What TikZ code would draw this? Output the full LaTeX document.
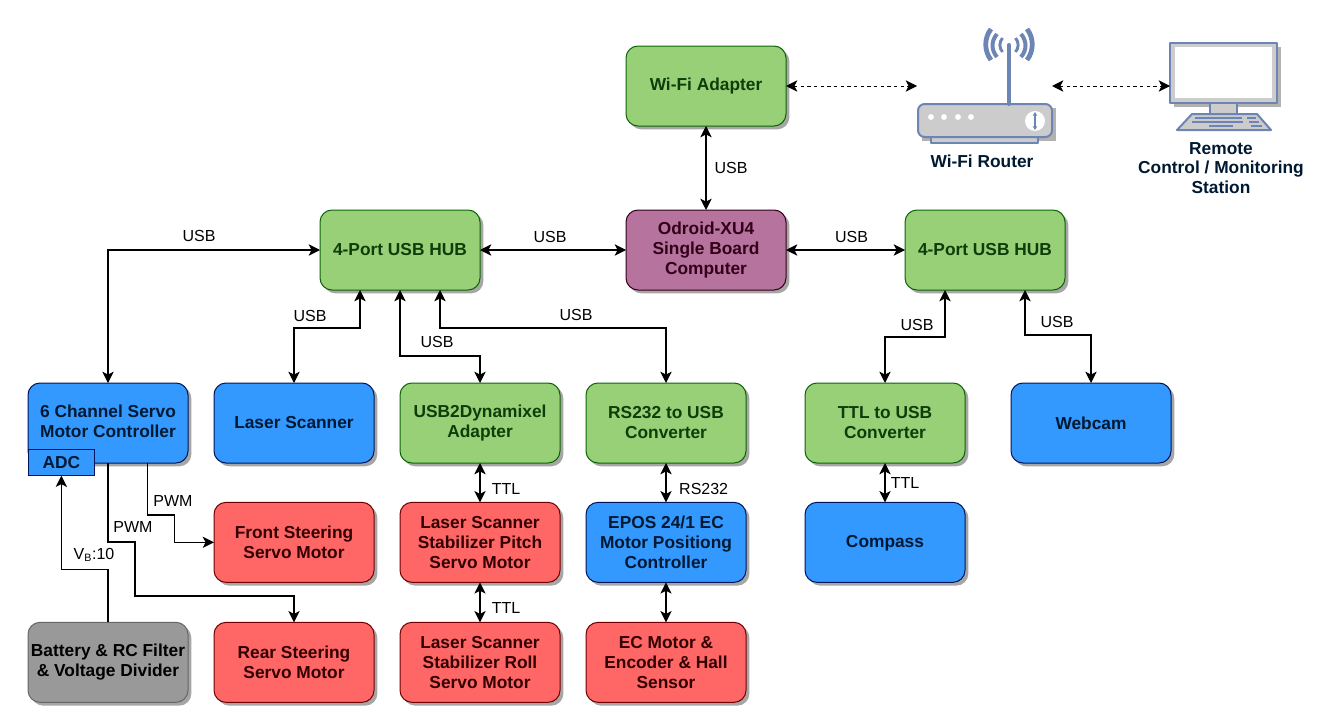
\documentclass[tikz,border=0pt]{standalone}
\usepackage{fontspec}
\setmainfont{Liberation Sans}
\usepackage{tikz}
\usetikzlibrary{arrows.meta, positioning, shadows}

\definecolor{greenfill}{HTML}{97D077}
\definecolor{greentext}{HTML}{0F3D0A}
\definecolor{bluefill}{HTML}{3399FF}
\definecolor{bluetext}{HTML}{001933}
\definecolor{redfill}{HTML}{FF6666}
\definecolor{redtext}{HTML}{330000}
\definecolor{grayfill}{HTML}{999999}
\definecolor{purplefill}{HTML}{B5739D}
\definecolor{purpletext}{HTML}{33001A}
\definecolor{iconline}{HTML}{6C85B5}
\definecolor{iconfill}{HTML}{CCCCCC}

\begin{document}
\begin{tikzpicture}[
    x=0.75pt, y=-0.75pt,
    node distance=29.5pt,
    block/.style={rectangle, minimum width=120pt, minimum height=60pt, align=center, rounded corners=9pt, line width=0.75pt, outer sep=0pt, inner sep=0pt, font=\fontsize{13pt}{15pt}\selectfont\bfseries, drop shadow={shadow xshift=2.5pt, shadow yshift=-2.5pt, fill=black!35, opacity=1}},
    greenblock/.style={block, draw=greentext!80!green, fill=greenfill, text=greentext},
    blueblock/.style={block, draw=bluetext!80!blue, fill=bluefill, text=bluetext},
    redblock/.style={block, draw=redtext!70!red, fill=redfill, text=redtext},
    grayblock/.style={block, draw=black!60, fill=grayfill, text=black},
    purpleblock/.style={block, draw=purpletext, fill=purplefill, text=purpletext},
    tag/.style={font=\fontsize{12pt}{14pt}\selectfont, inner sep=0pt},
    caption/.style={align=center, inner sep=0pt, text=bluetext, font=\fontsize{13pt}{14.6pt}\selectfont\bfseries},
    arrow/.style={line width=0.8pt, -{Stealth[length=8.5pt, width=8.5pt, inset=2.2pt]}},
    both/.style={line width=0.8pt, {Stealth[length=8.5pt, width=8.5pt, inset=2.2pt]}-{Stealth[length=8.5pt, width=8.5pt, inset=2.2pt]}},
    wireless/.style={both, line width=0.7pt, dash pattern=on 2.5pt off 2.5pt},
    icon/.style={draw=iconline, line width=1.5pt, line join=round}
]
\useasboundingbox (0,0) rectangle (1329,728);

% top row
\node (odroid) [purpleblock] at (706,250) {Odroid-XU4\\Single Board\\Computer};
\node (wifi) [greenblock, above=63pt of odroid] {Wi-Fi Adapter};
\node (hubleft) [greenblock, left=109.5pt of odroid] {4-Port USB HUB};
\node (hubright) [greenblock, right=89.25pt of odroid] {4-Port USB HUB};

% devices under the hubs
\node (servo) [blueblock] at (108,423) {\raisebox{6.5pt}{\begin{tabular}{@{}c@{}}6 Channel Servo\\Motor Controller\end{tabular}}};
\node (laser) [blueblock, right=19.5pt of servo] {Laser Scanner};
\node (dynamixel) [greenblock, right=19.5pt of laser] {USB2Dynamixel\\Adapter};
\node (rsconv) [greenblock, right=19.5pt of dynamixel] {RS232 to USB\\Converter};
\node (ttlconv) [greenblock] at (885,423) {TTL to USB\\Converter};
\node (webcam) [blueblock, right=34.5pt of ttlconv] {Webcam};
\node (adc) [rectangle, draw=bluetext!80!blue, fill=bluefill, text=bluetext, line width=0.75pt, outer sep=0pt, inner sep=0pt, minimum width=50pt, minimum height=20pt, font=\fontsize{13pt}{15pt}\selectfont\bfseries, anchor=north west] at ([yshift=10.5pt]servo.south west) {ADC};

% second row
\node (front) [redblock, below=29.5pt of laser] {Front Steering\\Servo Motor};
\node (pitch) [redblock, below=29.5pt of dynamixel] {Laser Scanner\\Stabilizer Pitch\\Servo Motor};
\node (epos) [blueblock, below=29.5pt of rsconv] {EPOS 24/1 EC\\Motor Positiong\\Controller};
\node (compass) [blueblock, below=29.5pt of ttlconv] {\raisebox{-3.75pt}[0pt][0pt]{Compass}};

% third row
\node (rear) [redblock, below=30pt of front] {Rear Steering\\Servo Motor};
\node (roll) [redblock, below=30pt of pitch] {Laser Scanner\\Stabilizer Roll\\Servo Motor};
\node (motor) [redblock, below=30pt of epos] {EC Motor \&\\Encoder \& Hall\\Sensor};
\node (battery) [grayblock, left=19.5pt of rear] {Battery \& RC Filter\\\& Voltage Divider};

% router
\fill [black!30] (922,108) rectangle (1056,141);
\draw [icon, fill=iconfill] (931,137) rectangle (1038,143);
\draw [icon, fill=iconfill, rounded corners=5pt] (918,104) rectangle (1052,137);
\draw [iconline, line width=3pt, line cap=round] (1009,104) -- (1009,45);
\foreach \dotx in {931,944,958,971}
    \fill [white] (\dotx,117) circle (2.2pt);
\fill [white] (1035,121) circle (7.5pt);
\draw [iconline, line width=1.2pt, {Stealth[length=3pt, width=3.5pt]}-{Stealth[length=3pt, width=3.5pt]}] (1035,112) -- (1035,130);
\foreach \sx in {-1,1} {
    \draw [iconline, line width=3.6pt] (1009+\sx*18,29) .. controls (1009+\sx*25,38) and (1009+\sx*25,51) .. (1009+\sx*18,60);
    \draw [iconline, line width=3pt] (1009+\sx*12,34) .. controls (1009+\sx*18,41) and (1009+\sx*18,50) .. (1009+\sx*12,57);
    \draw [iconline, line width=2.2pt] (1009+\sx*6.5,38) .. controls (1009+\sx*10,42) and (1009+\sx*10,48) .. (1009+\sx*6.5,52);
}
\node (routerlabel) [caption] at (982,161) {Wi-Fi Router};
\coordinate (routerleft) at (917,86);
\coordinate (routerright) at (1052,86);

% monitor
\fill [black!30] (1174,47) rectangle (1281,107);
\draw [icon, fill=iconfill] (1170,43) rectangle (1277,103);
\fill [white] (1175,47) rectangle (1272,98);
\draw [icon, fill=iconfill] (1210,103) rectangle (1237,114);
\draw [icon, fill=iconfill] (1177,130) -- (1192,114) -- (1257,114) -- (1271,130) -- cycle;
\draw [iconline, line width=1.4pt] (1195,118) -- (1242,118) (1247,118) -- (1256,118) (1192,122) -- (1243,122) (1249,122) -- (1259,122) (1209,126) -- (1233,126) (1251,126) -- (1262,126);
\node (monitorlabel) [caption] at (1221,168) {Remote\\Control / Monitoring\\Station};
\coordinate (monitorleft) at (1170,86);

% wireless links
\draw [wireless] (wifi) -- (routerleft);
\draw [wireless] (routerright) -- (monitorleft);

% usb links
\draw [both] (wifi) -- node[tag, right=6pt] {USB} (odroid);
\draw [both] (hubleft) -- node[tag, above=5pt, xshift=-2.25pt] {USB} (odroid);
\draw [both] (odroid) -- node[tag, above=5pt, xshift=4.5pt] {USB} (hubright);
\draw [both] (hubleft.west) -| (servo.north);
\node (usbservo) [tag] at (199,236) {USB};
\draw [both] ([xshift=-30pt]hubleft.south) -- ++(0,38) -| (laser.north);
\node (usblaser) [tag] at (310,316) {USB};
\draw [both] (hubleft.south) -- ++(0,66) -| (dynamixel.north);
\node (usbdynamixel) [tag] at (437,342) {USB};
\draw [both] ([xshift=30pt]hubleft.south) -- ++(0,38) -| (rsconv.north);
\node (usbrs) [tag] at (576,315) {USB};
\draw [both] ([xshift=-30pt]hubright.south) -- ++(0,47) -| (ttlconv.north);
\node (usbttl) [tag] at (917,325) {USB};
\draw [both] ([xshift=30pt]hubright.south) -- ++(0,45) -| (webcam.north);
\node (usbwebcam) [tag] at (1057,322) {USB};

% serial links
\draw [both] (dynamixel) -- node[tag, right=8.5pt, yshift=-4.5pt] {TTL} (pitch);
\draw [both] (pitch) -- node[tag, right=8.5pt, yshift=-4.5pt] {TTL} (roll);
\draw [both] (rsconv) -- node[tag, right=9.5pt, yshift=-5pt] {RS232} (epos);
\draw [both] (epos) -- (motor);
\draw [both] (ttlconv) -- node[tag, right=4pt] {TTL} (compass);

% servo signals
\draw [arrow] ([xshift=29.5pt]servo.south) -- ++(0,52) -- ++(27,0) |- (front.west);
\node (pwmfront) [tag] at (173,501) {PWM};
\draw [arrow] (servo.south) -- ++(0,79) -- ++(27,0) -- ++(0,54) -| (rear.north);
\node (pwmrear) [tag] at (133,527) {PWM};
\draw [arrow] (battery.north) -- ++(0,-53) -| (adc.south);
\node (vbatt) [tag] at (94,555) {V\textsubscript{B}:10};

\end{tikzpicture}
\end{document}
